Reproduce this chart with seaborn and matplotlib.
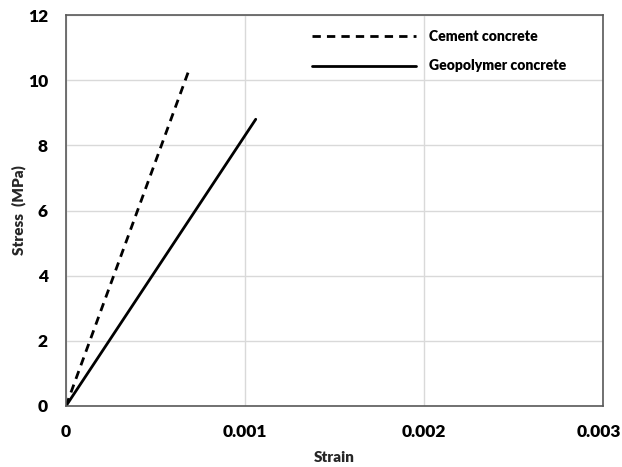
import matplotlib
matplotlib.use("Agg")
import matplotlib.pyplot as plt
import matplotlib.transforms as mtransforms
import seaborn as sns
import pandas as pd

sns.set_theme(style="white")
plt.rcParams['font.family'] = ['Lato', 'DejaVu Sans']

series = ["Cement concrete", "Geopolymer concrete"]
cement_strain = [0.0, 0.000683]
cement_stress = [0.0, 10.25]
geo_strain = [0.0, 0.00106]
geo_stress = [0.0, 8.80]
x_ticks = [0, 0.001, 0.002, 0.003]
x_tick_labels = ["0", "0.001", "0.002", "0.003"]
y_ticks = [0, 2, 4, 6, 8, 10, 12]

df = pd.concat([
    pd.DataFrame({"Strain": cement_strain, "Stress": cement_stress, "Series": series[0]}),
    pd.DataFrame({"Strain": geo_strain, "Stress": geo_stress, "Series": series[1]}),
])

fig = plt.figure(figsize=(6.22, 4.67), dpi=100)
ax = fig.add_axes([66/622, 1-406/467, (603-66)/622, (406-15)/467])

sns.lineplot(data=df[df.Series == series[0]], x="Strain", y="Stress", ax=ax,
             color="black", lw=2, dashes=False, label=series[0], estimator=None, sort=False)
sns.lineplot(data=df[df.Series == series[1]], x="Strain", y="Stress", ax=ax,
             color="black", lw=2, label=series[1], estimator=None, sort=False)
ax.lines[0].set_dashes((3, 2.2))

ax.set_xlim(0, 0.003)
ax.set_ylim(0, 12)
ax.set_xticks(x_ticks)
ax.set_xticklabels(x_tick_labels)
ax.set_yticks(y_ticks)
ax.grid(True, color="#d9d9d9", lw=1)
for s in ax.spines.values():
    s.set_color("#595959")
    s.set_linewidth(1.2)
ax.tick_params(axis="both", length=0, labelsize=12.5, colors="black")
ax.tick_params(axis="x", pad=13)
ax.tick_params(axis="y", pad=13)
for lbl in ax.get_xticklabels() + ax.get_yticklabels():
    lbl.set_fontweight("heavy")
last = ax.get_xticklabels()[-1]
last.set_transform(last.get_transform() + mtransforms.ScaledTranslation(-4/100, 0, fig.dpi_scale_trans))

ax.set_xlabel("Strain", fontsize=11, fontweight="heavy", labelpad=8)
ax.set_ylabel("Stress  (MPa)", fontsize=11, fontweight="heavy", labelpad=1)

leg = ax.legend(loc="upper left", bbox_to_anchor=(0.435, 0.995), frameon=False,
                handlelength=7.4, handletextpad=0.9, labelspacing=1.2,
                prop={"weight": "heavy", "size": 10.1})
for t in leg.get_texts():
    t.set_color("black")

fig.savefig("out.png", dpi=100)
